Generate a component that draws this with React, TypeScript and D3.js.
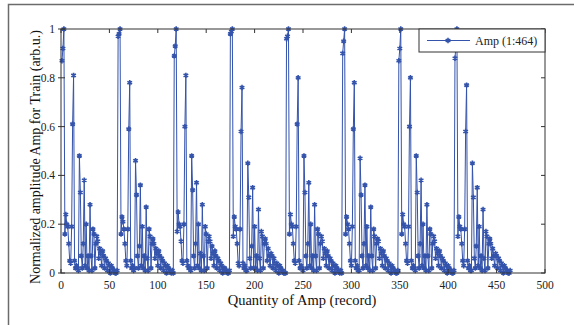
import React from 'react';
import * as d3 from 'd3';

// one array per pulse train (58 records each, 464 records total)
const train1 = [0.87,0.92,1.00,0.16,0.24,0.20,0.19,0.12,0.05,0.04,
  0.19,0.61,0.81,0.05,0.02,0.03,0.02,0.01,0.48,0.33,
  0.07,0.02,0.12,0.38,0.03,0.20,0.02,0.07,0.01,0.28,
  0.07,0.01,0.18,0.16,0.02,0.12,0.15,0.13,0.06,0.10,
  0.08,0.03,0.09,0.07,0.02,0.06,0.05,0.01,0.04,0.03,
  0.00,0.03,0.02,0.01,0.01,0.00,0.00,0.01];
const train2 = [0.97,0.98,1.00,0.16,0.23,0.21,0.18,0.12,0.05,0.03,
  0.18,0.59,0.78,0.05,0.02,0.03,0.01,0.02,0.46,0.32,
  0.07,0.02,0.11,0.36,0.03,0.19,0.02,0.07,0.01,0.27,
  0.06,0.01,0.18,0.15,0.02,0.12,0.14,0.12,0.06,0.10,
  0.08,0.03,0.09,0.07,0.02,0.06,0.05,0.01,0.04,0.03,
  0.00,0.03,0.02,0.01,0.01,0.00,0.01,0.00];
const train3 = [0.89,0.93,1.00,0.17,0.25,0.20,0.19,0.13,0.05,0.04,
  0.20,0.60,0.81,0.05,0.03,0.02,0.02,0.01,0.48,0.34,
  0.07,0.02,0.12,0.37,0.03,0.20,0.02,0.08,0.01,0.28,
  0.07,0.01,0.19,0.16,0.02,0.13,0.15,0.13,0.06,0.11,
  0.08,0.03,0.09,0.07,0.02,0.06,0.05,0.01,0.04,0.03,
  0.00,0.02,0.02,0.01,0.01,0.00,0.00,0.01];
const train4 = [0.98,0.99,1.00,0.15,0.23,0.19,0.18,0.12,0.04,0.03,
  0.18,0.58,0.76,0.04,0.02,0.03,0.01,0.01,0.45,0.31,
  0.06,0.02,0.11,0.35,0.02,0.19,0.02,0.07,0.01,0.26,
  0.06,0.01,0.17,0.15,0.02,0.12,0.14,0.12,0.05,0.10,
  0.07,0.03,0.08,0.07,0.02,0.06,0.04,0.01,0.04,0.03,
  0.00,0.03,0.02,0.01,0.01,0.00,0.00,0.00];
const train5 = [0.96,0.97,1.00,0.16,0.24,0.20,0.19,0.12,0.05,0.04,
  0.19,0.61,0.80,0.05,0.02,0.03,0.02,0.01,0.48,0.33,
  0.07,0.02,0.12,0.37,0.03,0.20,0.02,0.07,0.01,0.28,
  0.07,0.01,0.18,0.16,0.02,0.12,0.15,0.13,0.06,0.10,
  0.08,0.03,0.09,0.07,0.02,0.06,0.05,0.01,0.04,0.03,
  0.00,0.03,0.02,0.01,0.01,0.00,0.01,0.00];
const train6 = [0.90,0.95,1.00,0.16,0.23,0.20,0.18,0.12,0.05,0.03,
  0.19,0.59,0.78,0.05,0.02,0.03,0.01,0.01,0.47,0.32,
  0.07,0.02,0.12,0.36,0.03,0.19,0.02,0.07,0.01,0.27,
  0.07,0.01,0.18,0.15,0.02,0.12,0.14,0.13,0.06,0.10,
  0.08,0.03,0.09,0.07,0.02,0.06,0.05,0.01,0.04,0.03,
  0.00,0.03,0.02,0.01,0.01,0.00,0.00,0.01];
const train7 = [0.87,0.92,1.00,0.16,0.24,0.20,0.19,0.12,0.05,0.04,
  0.19,0.60,0.80,0.05,0.02,0.03,0.02,0.01,0.48,0.33,
  0.07,0.02,0.12,0.38,0.03,0.20,0.02,0.07,0.01,0.28,
  0.07,0.01,0.18,0.16,0.02,0.12,0.15,0.13,0.06,0.10,
  0.08,0.03,0.09,0.07,0.02,0.06,0.05,0.01,0.04,0.03,
  0.00,0.03,0.02,0.01,0.01,0.00,0.00,0.01];
const train8 = [0.88,0.93,1.00,0.15,0.23,0.19,0.18,0.12,0.05,0.03,
  0.18,0.58,0.77,0.05,0.02,0.03,0.01,0.01,0.45,0.31,
  0.06,0.02,0.11,0.35,0.03,0.19,0.02,0.07,0.01,0.26,
  0.06,0.01,0.17,0.15,0.02,0.12,0.14,0.12,0.06,0.10,
  0.07,0.03,0.08,0.07,0.02,0.06,0.05,0.01,0.04,0.03,
  0.00,0.03,0.02,0.01,0.01,0.00,0.00,0.01];

const xTicks = [0, 50, 100, 150, 200, 250, 300, 350, 400, 450, 500];
const yTicks = [0, 0.2, 0.4, 0.6, 0.8, 1];
const yTickLabels = ['0', '0.2', '0.4', '0.6', '0.8', '1'];
const legendLabel = 'Amp (1:464)';

const W = 574, H = 325;
const left = 61, right = 545, top = 29, bottom = 273;
const blue = '#3453ab';
const font = '"Liberation Serif", "Times New Roman", serif';

const amp = [train1, train2, train3, train4, train5, train6, train7, train8].flat();
const points = amp.map((v, i) => ({ x: i + 1, y: v }));

const App = () => {
  const x = d3.scaleLinear().domain([0, 500]).range([left, right]);
  const y = d3.scaleLinear().domain([0, 1]).range([bottom, top]);

  const line = d3.line<{ x: number; y: number }>()
    .x(d => x(d.x))
    .y(d => y(d.y));

  const marker = d3.symbol().type(d3.symbolAsterisk || d3.symbolCross).size(20)();

  return (
    <svg width={W} height={H} style={{ position: 'absolute', left: 0, top: 0, background: '#fff' }}>
      {/* figure frame */}
      <path d={`M8.5,${H} V4.5 H${W}`} fill="none" stroke="#6b6b6b" strokeWidth={1.5} />

      {/* data */}
      <path d={line(points) || ''} fill="none" stroke={blue} strokeWidth={1} />
      {points.map((p, i) => (
        <path key={i} d={marker} transform={`translate(${x(p.x)},${y(p.y)})`}
          fill="none" stroke={blue} strokeWidth={1.6} />
      ))}

      {/* axes box */}
      <rect x={left} y={top} width={right - left} height={bottom - top} fill="none" stroke="#333" strokeWidth={1} />
      {xTicks.map(t => (
        <g key={t}>
          <line x1={x(t)} x2={x(t)} y1={bottom} y2={bottom - 4} stroke="#333" />
          <line x1={x(t)} x2={x(t)} y1={top} y2={top + 4} stroke="#333" />
          <text x={x(t)} y={289} textAnchor="middle" fontFamily={font} fontSize={11.5} fill="#222">{t}</text>
        </g>
      ))}
      {yTicks.map((t, i) => (
        <g key={t}>
          <line x1={left - 3} x2={left + 4} y1={y(t)} y2={y(t)} stroke="#333" />
          <line x1={right} x2={right - 4} y1={y(t)} y2={y(t)} stroke="#333" />
          <text x={left - 6} y={y(t) + 4} textAnchor="end" fontFamily={font} fontSize={11.5} fill="#222">{yTickLabels[i]}</text>
        </g>
      ))}

      {/* labels */}
      <text x={302} y={305} textAnchor="middle" fontFamily={font} fontSize={14.5} fill="#111">
        Quantity of Amp (record)
      </text>
      <text transform={`translate(40,${(top + bottom) / 2 + 6}) rotate(-90)`} textAnchor="middle"
        fontFamily={font} fontSize={14} fill="#111">
        Normalized amplitude Amp for Train (arb.u.)
      </text>

      {/* legend */}
      <rect x={419} y={29} width={126} height={23} fill="#fff" stroke="#333" strokeWidth={1} />
      <line x1={427} x2={470} y1={40.5} y2={40.5} stroke={blue} strokeWidth={1} />
      <path d={marker} transform="translate(448,40.5)" fill="none" stroke={blue} strokeWidth={1.6} />
      <text x={475} y={45} fontFamily={font} fontSize={12} fill="#222">{legendLabel}</text>
    </svg>
  );
};

export default App;
